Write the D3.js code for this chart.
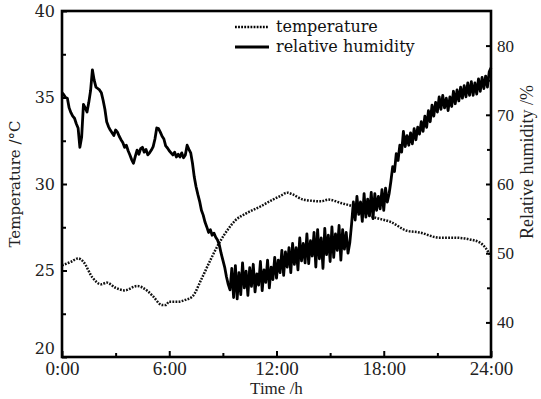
<!DOCTYPE html>
<html>
<head>
<meta charset="utf-8">
<script src="https://cdn.jsdelivr.net/npm/d3@7"></script>
<style>
  body { margin: 0; background: #fff; }
  svg { display: block; }
</style>
</head>
<body>
<div id="chart"></div>
<script>
// temperature readings (hours, °C)
const tempTime = [0, 0.5, 0.9, 1.2, 1.7, 2.2, 2.5, 3.0, 3.5, 4.2, 4.8, 5.1, 5.6, 5.8, 6.0, 6.5, 6.9, 7.3,
  7.8, 8.3, 8.8, 9.3, 9.7, 10.3, 11.1, 11.8, 12.2, 12.6, 12.9, 13.5, 14.5, 14.9, 15.6, 16.3, 17.4,
  18.4, 19.3, 20.0, 21.1, 21.9, 22.8, 23.4, 23.7, 24.0];
const tempValues = [25.3, 25.5, 25.7, 25.5, 24.6, 24.2, 24.3, 24.0, 23.85, 24.1, 23.8, 23.5, 23.0, 23.0, 23.2, 23.2, 23.3, 23.5,
  24.5, 25.6, 26.6, 27.4, 27.9, 28.3, 28.7, 29.1, 29.3, 29.5, 29.4, 29.1, 29.0, 29.1, 28.9, 28.7, 28.1,
  27.8, 27.3, 27.2, 26.9, 26.9, 26.8, 26.6, 26.3, 25.8];

// relative humidity, one reading every 0.1 h from 0:00 to 24:00 (%)
const humStep = 0.1;
const humValues = [
  73.2, 72.9, 72.5, 72.4, 71.0, 70.3, 69.8, 69.5, 68.7, 68.1,
  65.3, 66.8, 71.5, 71.0, 70.4, 71.8, 73.5, 76.5, 75.0, 74.0,
  73.8, 73.6, 73.2, 72.1, 70.8, 69.0, 68.3, 67.8, 67.4, 67.0,
  67.8, 67.5, 66.9, 66.4, 66.0, 65.3, 65.6, 64.8, 64.2, 63.5,
  63.0, 64.0, 64.9, 64.3, 65.1, 65.3, 64.6, 65.0, 64.2, 64.5,
  64.9, 65.4, 66.5, 68.1, 68.0, 67.5, 66.9, 66.5, 65.5, 65.2,
  64.8, 64.5, 64.2, 64.6, 63.9, 64.3, 63.9, 64.5, 63.8, 64.2,
  65.6, 65.0, 64.5, 63.0, 61.0, 59.6, 58.5, 57.5, 56.2, 55.5,
  54.5, 53.8, 53.0, 53.4, 52.6, 52.9, 52.3, 51.9, 51.2, 50.0,
  49.0, 48.0, 46.6, 45.5, 44.7, 47.8, 43.6, 48.2, 43.4, 47.2,
  44.0, 48.6, 45.0, 47.4, 43.9, 47.9, 45.2, 48.4, 44.4, 47.0,
  45.4, 48.8, 44.6, 47.6, 45.8, 49.0, 45.0, 48.0, 46.2, 49.4,
  46.4, 49.0, 47.2, 50.4, 46.8, 50.2, 48.0, 50.8, 47.2, 51.4,
  48.4, 50.8, 47.6, 52.2, 48.9, 51.4, 48.6, 52.8, 48.5, 51.8,
  49.6, 53.0, 48.0, 53.4, 49.2, 52.2, 47.8, 53.6, 49.8, 52.6,
  48.8, 53.8, 49.4, 52.8, 50.4, 54.0, 49.0, 53.4, 50.6, 53.0,
  50.0, 51.5, 54.2, 57.4, 54.8, 58.2, 55.6, 57.4, 54.6, 58.6,
  55.2, 57.8, 55.4, 58.8, 55.0, 58.6, 56.2, 58.2, 56.4, 59.2,
  56.2, 59.4, 57.4, 58.6, 60.4, 62.5, 61.8, 64.4, 63.4, 65.6,
  64.6, 67.6, 65.4, 67.0, 65.6, 67.4, 65.8, 68.0, 66.4, 68.2,
  67.2, 69.0, 67.6, 69.8, 68.2, 70.6, 69.0, 71.4, 69.8, 71.8,
  70.4, 72.6, 70.8, 72.8, 71.0, 72.4, 70.6, 72.6, 71.2, 73.4,
  71.6, 73.6, 72.0, 74.0, 72.4, 74.2, 72.6, 74.6, 72.8, 74.8,
  72.8, 74.6, 73.0, 75.2, 73.4, 75.4, 73.8, 75.6, 74.0, 76.2,
  76.8
];

const timeTicks = [0, 6, 12, 18, 24];
const timeMinor = [3, 9, 15, 21];
const tempTicks = [20, 25, 30, 35, 40];
const tempMinor = [22.5, 27.5, 32.5, 37.5];
const humTicks = [40, 50, 60, 70, 80];
const humMinor = [45, 55, 65, 75];

const W = 541, H = 399;
const margin = { top: 11, right: 50, bottom: 42, left: 62 };

const svg = d3.select('#chart').append('svg')
  .attr('width', W)
  .attr('height', H);

const x = d3.scaleLinear().domain([0, 24]).range([margin.left, W - margin.right]);
const yT = d3.scaleLinear().domain([20, 40]).range([H - margin.bottom, margin.top]);
const yH = d3.scaleLinear().domain([35, 85]).range([H - margin.bottom, margin.top]);

const centuryFont = '"DejaVu Serif", serif';
const timesFont = '"Liberation Serif", "Times New Roman", serif';

// lines
const tempLine = d3.line()
  .x((d, i) => x(tempTime[i]))
  .y(d => yT(d))
  .curve(d3.curveMonotoneX);

svg.append('path')
  .datum(tempValues)
  .attr('fill', 'none')
  .attr('stroke', '#111')
  .attr('stroke-width', 2.5)
  .attr('stroke-dasharray', '1.8,1.3')
  .attr('d', tempLine);

const humLine = d3.line()
  .x((d, i) => x(i * humStep))
  .y(d => yH(d));

svg.append('path')
  .datum(humValues)
  .attr('fill', 'none')
  .attr('stroke', '#000')
  .attr('stroke-width', 2.8)
  .attr('stroke-linejoin', 'round')
  .attr('d', humLine);

// axes
function styleAxis(g, font, size) {
  g.select('.domain').remove();
  g.selectAll('line').attr('stroke', '#000').attr('stroke-width', 2);
  g.selectAll('text').attr('font-family', font).attr('font-size', size).attr('fill', '#222');
}

svg.append('g')
  .attr('transform', `translate(0,${H - margin.bottom})`)
  .call(d3.axisBottom(x).tickValues(timeTicks).tickFormat(d => d + ':00').tickSizeInner(-6).tickSizeOuter(0).tickPadding(5))
  .call(g => styleAxis(g, timesFont, 19));

svg.append('g')
  .attr('transform', `translate(0,${H - margin.bottom})`)
  .call(d3.axisBottom(x).tickValues(timeMinor).tickFormat('').tickSizeInner(-4).tickSizeOuter(0))
  .call(g => styleAxis(g, timesFont, 19));

svg.append('g')
  .attr('transform', `translate(${margin.left},0)`)
  .call(d3.axisLeft(yT).tickValues(tempTicks).tickSizeInner(-5).tickSizeOuter(0).tickPadding(7))
  .call(g => styleAxis(g, centuryFont, 16))
  .call(g => g.selectAll('.tick').filter(d => d === 20).select('text').attr('dy', '-0.25em'));

svg.append('g')
  .attr('transform', `translate(${margin.left},0)`)
  .call(d3.axisLeft(yT).tickValues(tempMinor).tickFormat('').tickSizeInner(-4).tickSizeOuter(0))
  .call(g => styleAxis(g, centuryFont, 16));

svg.append('g')
  .attr('transform', `translate(${W - margin.right},0)`)
  .call(d3.axisRight(yH).tickValues(humTicks).tickSizeInner(-5).tickSizeOuter(0).tickPadding(6))
  .call(g => styleAxis(g, timesFont, 17));

svg.append('g')
  .attr('transform', `translate(${W - margin.right},0)`)
  .call(d3.axisRight(yH).tickValues(humMinor).tickFormat('').tickSizeInner(-4).tickSizeOuter(0))
  .call(g => styleAxis(g, timesFont, 17));

// frame
svg.append('rect')
  .attr('x', margin.left)
  .attr('y', margin.top)
  .attr('width', W - margin.left - margin.right)
  .attr('height', H - margin.top - margin.bottom)
  .attr('fill', 'none')
  .attr('stroke', '#000')
  .attr('stroke-width', 2.6);

// axis titles
svg.append('text')
  .attr('transform', `translate(20,${(margin.top + H - margin.bottom) / 2}) rotate(-90)`)
  .attr('text-anchor', 'middle')
  .attr('font-family', centuryFont)
  .attr('font-size', 15)
  .attr('fill', '#222')
  .text('Temperature /°C');

svg.append('text')
  .attr('transform', `translate(533,162) rotate(-90)`)
  .attr('text-anchor', 'middle')
  .attr('font-family', timesFont)
  .attr('font-size', 18)
  .attr('fill', '#222')
  .text('Relative humidity /%');

svg.append('text')
  .attr('x', (x(0) + x(24)) / 2)
  .attr('y', 394)
  .attr('text-anchor', 'middle')
  .attr('font-family', timesFont)
  .attr('font-size', 17)
  .attr('fill', '#222')
  .text('Time /h');

// legend
const legend = [
  { label: 'temperature', dash: '1.8,1.3', y: 27 },
  { label: 'relative humidity', dash: null, y: 47 }
];
const lg = svg.append('g');
legend.forEach(d => {
  lg.append('line')
    .attr('x1', 235).attr('x2', 269)
    .attr('y1', d.y).attr('y2', d.y)
    .attr('stroke', '#000')
    .attr('stroke-width', d.dash ? 2.5 : 2.8)
    .attr('stroke-dasharray', d.dash);
  lg.append('text')
    .attr('x', 276)
    .attr('y', d.y + 5)
    .attr('font-family', centuryFont)
    .attr('font-size', 16)
    .attr('fill', '#111')
    .text(d.label);
});
</script>
</body>
</html>
